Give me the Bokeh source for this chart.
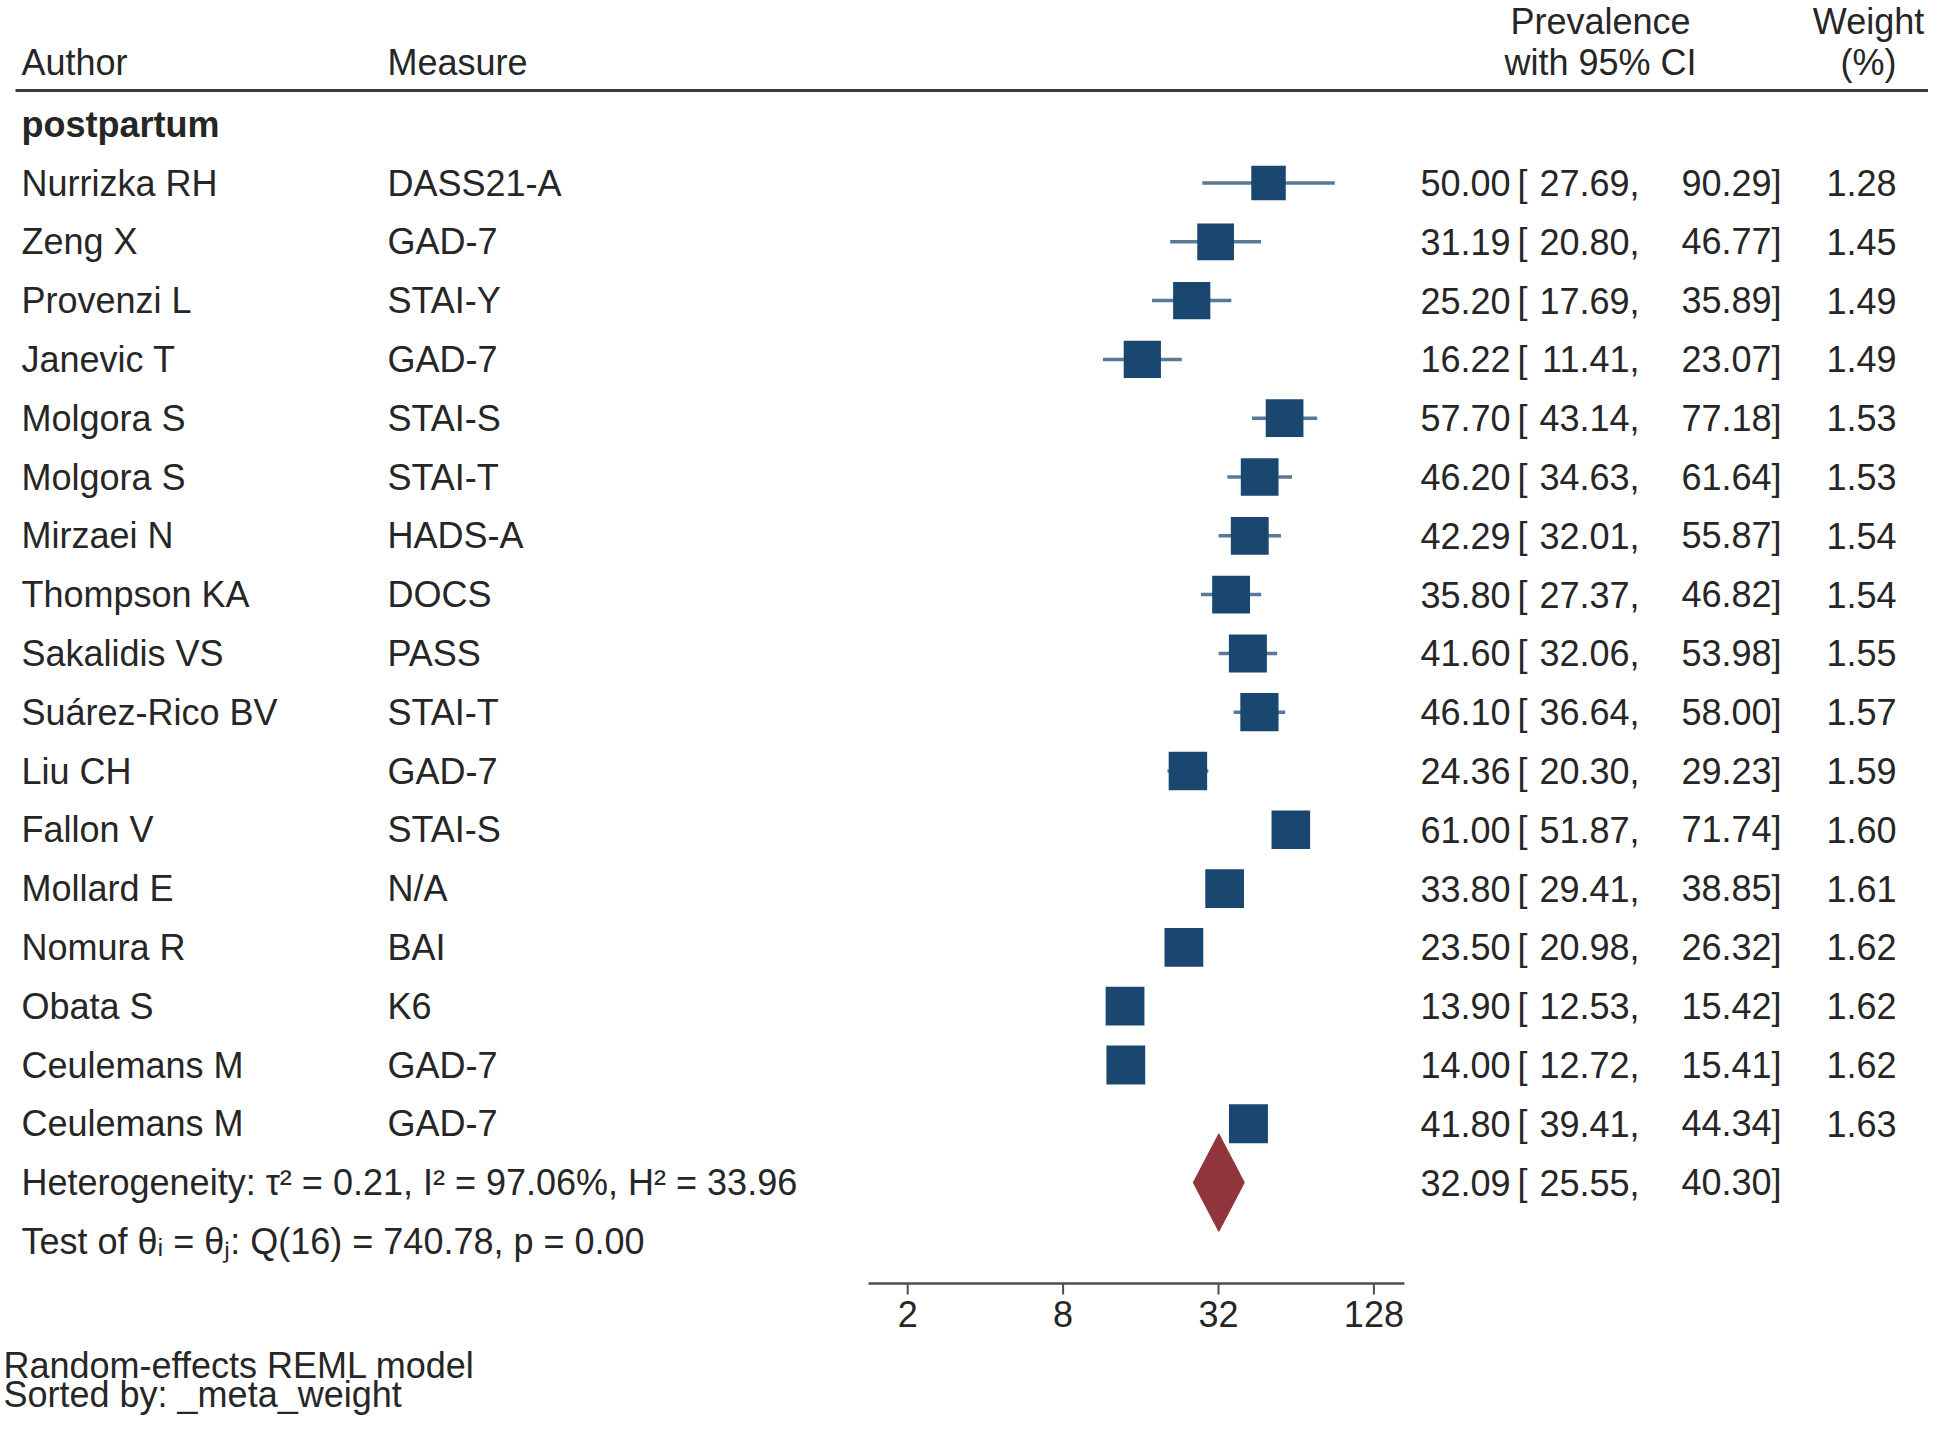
import numpy as np
from bokeh.plotting import figure
from bokeh.models import Range1d, ColumnDataSource, LinearScale
from bokeh.core.properties import value
from bokeh.embed import file_html
from bokeh.resources import INLINE

# ---------------- data ----------------
authors = ["Nurrizka RH", "Zeng X", "Provenzi L", "Janevic T", "Molgora S", "Molgora S",
           "Mirzaei N", "Thompson KA", "Sakalidis VS", "Suárez-Rico BV", "Liu CH", "Fallon V",
           "Mollard E", "Nomura R", "Obata S", "Ceulemans M", "Ceulemans M"]
measures = ["DASS21-A", "GAD-7", "STAI-Y", "GAD-7", "STAI-S", "STAI-T", "HADS-A", "DOCS",
            "PASS", "STAI-T", "GAD-7", "STAI-S", "N/A", "BAI", "K6", "GAD-7", "GAD-7"]
prevalence = [50.00, 31.19, 25.20, 16.22, 57.70, 46.20, 42.29, 35.80, 41.60, 46.10, 24.36,
              61.00, 33.80, 23.50, 13.90, 14.00, 41.80]
ci_lower = [27.69, 20.80, 17.69, 11.41, 43.14, 34.63, 32.01, 27.37, 32.06, 36.64, 20.30,
            51.87, 29.41, 20.98, 12.53, 12.72, 39.41]
ci_upper = [90.29, 46.77, 35.89, 23.07, 77.18, 61.64, 55.87, 46.82, 53.98, 58.00, 29.23,
            71.74, 38.85, 26.32, 15.42, 15.41, 44.34]
weights = [1.28, 1.45, 1.49, 1.49, 1.53, 1.53, 1.54, 1.54, 1.55, 1.57, 1.59, 1.60, 1.61,
           1.62, 1.62, 1.62, 1.63]
overall = [32.09, 25.55, 40.30]
group_label = "postpartum"
heterogeneity = "Heterogeneity: τ² = 0.21, I² = 97.06%, H² = 33.96"
q_test = "Test of θᵢ = θⱼ: Q(16) = 740.78, p = 0.00"
footer = ["Random-effects REML model", "Sorted by: _meta_weight"]
x_ticks = [2, 8, 32, 128]
axis_limits = [1.41, 168.0]

# ---------------- layout constants ----------------
W, H = 1928, 1416
PX0, PX1 = 0, W                 # reference pixel coords of the canvas
PY0, PY1 = 0, H
X32, PX_PER_LOG2 = 1218.0, 77.7  # pixel of value 32, pixels per doubling
ROW0, ROWH = 182.5, 58.8
FONT = value("Liberation Sans")
FS = "36px"
FSN = "36px"
TXT = "#262626"
NAVY = "#1A476F"
MAROON = "#90353B"

lx0 = 5 + (PX0 - X32) / PX_PER_LOG2
lx1 = 5 + (PX1 - X32) / PX_PER_LOG2

p = figure(width=W, height=H, output_backend="svg", toolbar_location=None,
           x_axis_type="log", x_range=Range1d(2 ** lx0, 2 ** lx1),
           y_range=Range1d(PY1, PY0),
           x_axis_location=None, y_axis_location=None, min_border=0)
p.grid.visible = False
p.outline_line_color = None
p.background_fill_color = "white"
p.border_fill_color = "white"
p.extra_x_ranges = {"px": Range1d(PX0, PX1)}
p.extra_x_scales = {"px": LinearScale()}

n = len(authors)
rows = ROW0 + ROWH * np.arange(n)
y_group = ROW0 - ROWH
y_het = ROW0 + ROWH * n
y_q = y_het + ROWH

src = ColumnDataSource(dict(
    author=authors, measure=measures, est=prevalence, lo=ci_lower, hi=ci_upper,
    w=weights, y=rows,
    side=[30.5 * np.sqrt(w) for w in weights],
    est_s=[f"{v:.2f}" for v in prevalence],
    lo_s=[f"{v:.2f}," for v in ci_lower],
    hi_s=[f"{v:.2f}]" for v in ci_upper],
    w_s=[f"{v:.2f}" for v in weights],
    br=["["] * n,
))

common = dict(text_font=FONT, text_font_size=FS, text_color=TXT, text_baseline="middle",
              x_range_name="px")
num = dict(common, text_font_size=FSN)

EST_R, BR_L, LO_R, HI_R, W_R = 1510, 1517, 1639, 1781, 1896

# header
p.text(x=[21, 387], y=[62, 62], text=["Author", "Measure"], text_align="left", **common)
p.text(x=[1600, 1600], y=[21, 62], text=["Prevalence", "with 95% CI"],
       text_align="center", **common)
p.text(x=[1868, 1868], y=[21, 62], text=["Weight", "(%)"], text_align="center", **common)
p.segment(x0=[15], y0=[90], x1=[1928], y1=[90], line_color="#3a3a3a", line_width=3,
          x_range_name="px")

# group label
p.text(x=[21], y=[y_group], text=[group_label], text_align="left",
       text_font_style="bold", **common)

# rows text
p.text(x=21, y="y", text="author", source=src, text_align="left", **common)
p.text(x=387, y="y", text="measure", source=src, text_align="left", **common)
p.text(x=EST_R, y="y", text="est_s", source=src, text_align="right", **num)
p.text(x=BR_L, y="y", text="br", source=src, text_align="left", **num)
p.text(x=LO_R, y="y", text="lo_s", source=src, text_align="right", **num)
p.text(x=HI_R, y="y", text="hi_s", source=src, text_align="right", **num)
p.text(x=W_R, y="y", text="w_s", source=src, text_align="right", **num)

# CI lines and squares
p.segment(x0="lo", y0="y", x1="hi", y1="y", source=src, line_color="#587a98", line_width=3.5)
p.rect(x="est", y="y", width="side", height="side", width_units="screen",
       height_units="screen", source=src, fill_color=NAVY, line_color=None)

# overall diamond
half = 0.83 * ROWH
p.patch(x=[overall[1], overall[0], overall[2], overall[0]],
        y=[y_het, y_het - half, y_het, y_het + half],
        fill_color=MAROON, line_color=MAROON, line_width=1)
p.text(x=[EST_R], y=[y_het], text=[f"{overall[0]:.2f}"], text_align="right", **num)
p.text(x=[BR_L], y=[y_het], text=["["], text_align="left", **num)
p.text(x=[LO_R], y=[y_het], text=[f"{overall[1]:.2f},"], text_align="right", **num)
p.text(x=[HI_R], y=[y_het], text=[f"{overall[2]:.2f}]"], text_align="right", **num)

p.text(x=[21, 21], y=[y_het, y_q], text=[heterogeneity, q_test],
       text_align="left", **common)

# x axis (drawn on the log scale)
AX_Y = 1283
p.segment(x0=[axis_limits[0]], y0=[AX_Y], x1=[axis_limits[1]], y1=[AX_Y],
          line_color="#4d4d4d", line_width=2.5)
p.segment(x0=x_ticks, y0=[AX_Y] * len(x_ticks), x1=x_ticks, y1=[AX_Y + 11] * len(x_ticks),
          line_color="#4d4d4d", line_width=2)
p.text(x=x_ticks, y=[1313] * len(x_ticks), text=[str(t) for t in x_ticks],
       text_align="center", text_baseline="middle", text_font=FONT, text_font_size=FS,
       text_color=TXT)

# footer
p.text(x=[3, 3], y=[1365, 1394], text=footer, text_align="left", **common)

open("out.html", "w").write(file_html(p, INLINE))
